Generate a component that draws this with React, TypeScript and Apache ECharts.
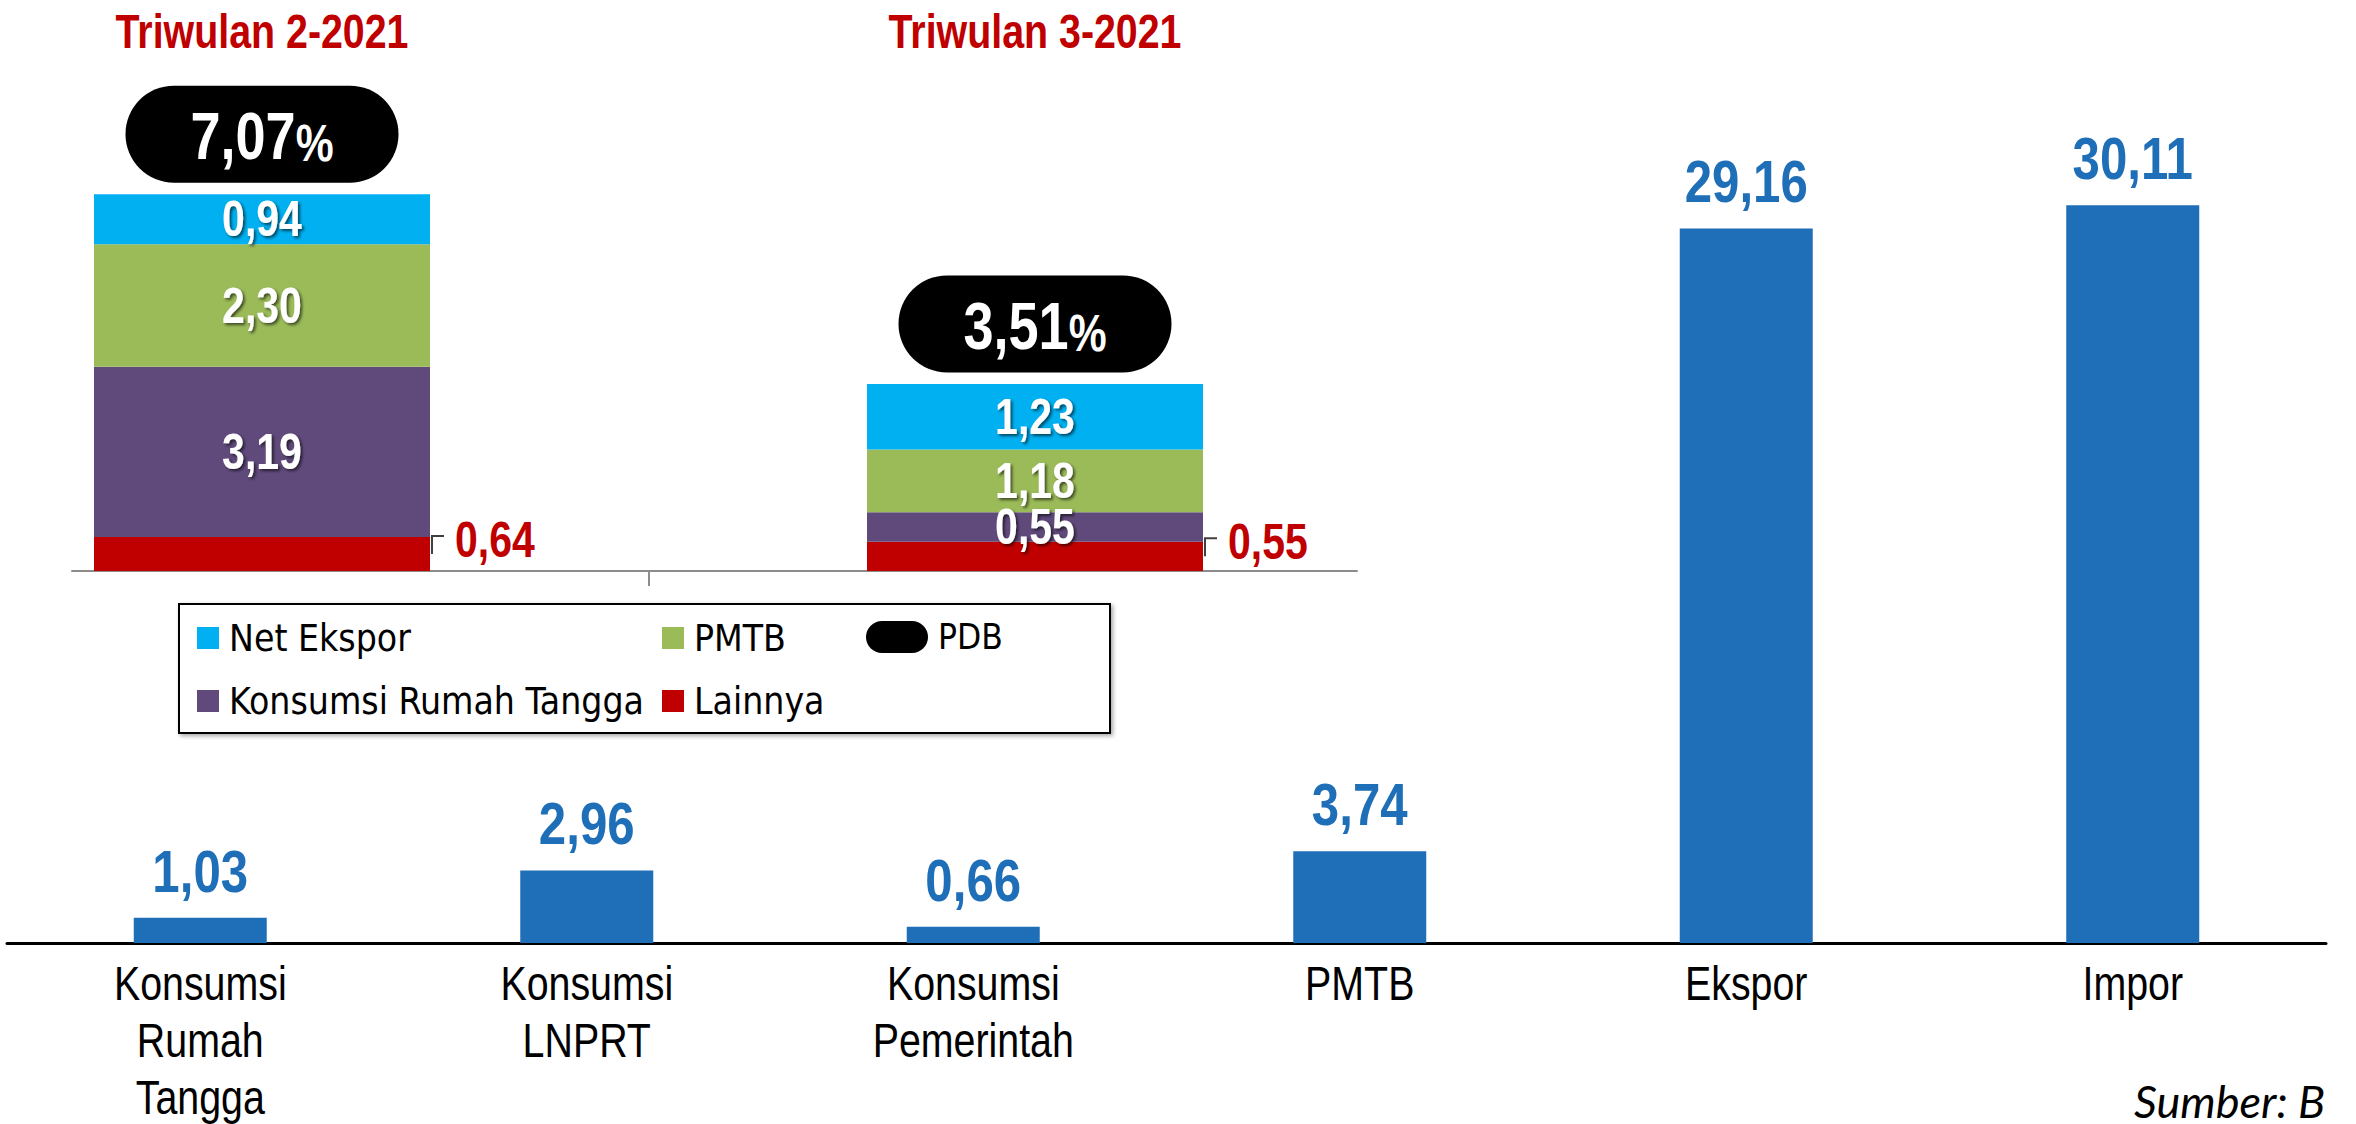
import React, { useEffect, useRef } from 'react';
import * as echarts from 'echarts';

// ---- Main chart data ----
const mainCategories = ['Konsumsi\nRumah\nTangga', 'Konsumsi\nLNPRT', 'Konsumsi\nPemerintah', 'PMTB', 'Ekspor', 'Impor'];
const mainValues = [1.03, 2.96, 0.66, 3.74, 29.16, 30.11];

// ---- Inset chart data ----
const quarterTitles = ['Triwulan 2-2021', 'Triwulan 3-2021'];
const lainnya = [0.64, 0.55];
const konsumsiRT = [3.19, 0.55];
const pmtb = [2.3, 1.18];
const netEkspor = [0.94, 1.23];
const pdb = [7.07, 3.51];
const insideSegments = [konsumsiRT, pmtb, netEkspor];

const ARIAL = "'Liberation Sans', Arial, sans-serif";
const LEGEND_FONT = "'DejaVu Sans Condensed', 'DejaVu Sans', sans-serif";
const NARROW_SCALE = 0.82;
const BLUE = '#1F6FB8';
const RED = '#C00000';
const INSET_BAR_W = 336;
const PILL = 'path://M48.5,0 H224.5 A48.5,48.5 0 0 1 224.5,97 H48.5 A48.5,48.5 0 0 1 48.5,0 Z';
const PILL_SMALL = 'path://M16,0 H46 A16,16 0 0 1 46,32 H16 A16,16 0 0 1 16,0 Z';
const PILL_OFFSET = -60;

const fmt = (v: number) => v.toFixed(2).replace('.', ',');

const narrowText = (x: number, y: number, text: string, st: any) => ({
  type: 'text',
  x,
  y,
  scaleX: NARROW_SCALE,
  style: {
    text,
    fontFamily: ARIAL,
    align: 'center',
    textAlign: 'center',
    verticalAlign: 'middle',
    textVerticalAlign: 'middle',
    ...st,
  },
});

const legendItem = (name: string, left: number, centerY: number, icon: string, w: number, h: number, fs: number) => {
  const boxH = Math.max(h, fs);
  return {
    data: [name],
    left,
    top: centerY - boxH / 2,
    padding: 0,
    itemWidth: w,
    itemHeight: h,
    icon,
    selectedMode: false,
    textStyle: { fontSize: fs, lineHeight: fs, fontFamily: LEGEND_FONT, color: '#000', padding: [0, 0, 0, 5] },
  };
};

export default function App() {
  const ref = useRef<HTMLDivElement>(null);
  useEffect(() => {
    document.body.style.margin = '0';
    document.body.style.overflow = 'hidden';
    const chart = echarts.init(ref.current!, undefined, { renderer: 'svg' });

    const mainLabels = (params: any, api: any) => {
      const i = api.value(0);
      const v = api.value(1);
      const [x, y] = api.coord([i, v]);
      const [, y0] = api.coord([i, 0]);
      return {
        type: 'group',
        children: [
          narrowText(x, y - 47, fmt(v), { fill: BLUE, fontSize: 60, fontWeight: 'bold' }),
          narrowText(x, y0 + 12, mainCategories[i], {
            fill: '#000',
            fontSize: 48,
            lineHeight: 57,
            verticalAlign: 'top',
            textVerticalAlign: 'top',
          }),
        ],
      };
    };

    const insetLabels = (params: any, api: any) => {
      const i = api.value(0);
      const [x, yBase] = api.coord([i, 0]);
      const children: any[] = [];
      // title
      children.push(narrowText(x, 31, quarterTitles[i], { fill: RED, fontSize: 48, fontWeight: 'bold' }));
      // Lainnya (outside, right)
      const redTop = api.coord([i, lainnya[i]])[1];
      const redMid = (yBase + redTop) / 2;
      const right = x + INSET_BAR_W / 2;
      children.push({
        type: 'polyline',
        shape: { points: [[right + 2, redMid], [right + 2, redMid - 18], [right + 14, redMid - 18]] },
        style: { stroke: '#404040', lineWidth: 2, fill: 'none' },
      });
      children.push({
        type: 'text',
        x: right + 25,
        y: redMid - 14,
        scaleX: NARROW_SCALE,
        style: {
          text: fmt(lainnya[i]),
          fill: RED,
          fontSize: 50,
          fontWeight: 'bold',
          fontFamily: ARIAL,
          align: 'left',
          textAlign: 'left',
          verticalAlign: 'middle',
          textVerticalAlign: 'middle',
        },
      });
      // inside segments
      let cum = lainnya[i];
      insideSegments.forEach((arr) => {
        const v = arr[i];
        const yc = api.coord([i, cum + v / 2])[1];
        children.push(
          narrowText(x, yc, fmt(v), {
            fill: '#fff',
            fontSize: 50,
            fontWeight: 'bold',
            textShadowColor: 'rgba(0,0,0,0.6)',
            textShadowBlur: 3,
            textShadowOffsetX: 2,
            textShadowOffsetY: 2,
          })
        );
        cum += v;
      });
      // PDB pill text
      const yTot = api.coord([i, pdb[i]])[1];
      children.push(
        narrowText(x, yTot + PILL_OFFSET + 2, `{a|${fmt(pdb[i])}}{b|%}`, {
          fill: '#fff',
          rich: {
            a: { fill: '#fff', fontSize: 66, fontWeight: 'bold', fontFamily: ARIAL, lineHeight: 66, verticalAlign: 'bottom' },
            b: { fill: '#fff', fontSize: 52, fontWeight: 'bold', fontFamily: ARIAL, lineHeight: 66, verticalAlign: 'bottom' },
          },
        })
      );
      return { type: 'group', children };
    };

    const insetBar = (name: string, data: number[], color: string) => ({
      type: 'bar',
      name,
      xAxisIndex: 2,
      yAxisIndex: 2,
      stack: 'q',
      barWidth: INSET_BAR_W,
      data,
      itemStyle: { color },
    });

    const option: any = {
      animation: false,
      backgroundColor: '#fff',
      grid: [
        { left: 7, top: 61, width: 2319, height: 882 },
        { left: 72, top: 38, width: 1285, height: 533 },
        { left: 262, top: 38, width: 773, height: 533 },
      ],
      xAxis: [
        {
          type: 'category',
          gridIndex: 0,
          data: mainCategories,
          axisLine: { lineStyle: { color: '#000', width: 3 } },
          axisTick: { show: false },
          axisLabel: { show: false },
        },
        {
          type: 'value',
          gridIndex: 1,
          min: -0.2458,
          max: 1.4165,
          splitLine: { show: false },
          axisLabel: { show: false },
          axisLine: { show: true, lineStyle: { color: '#8c8c8c', width: 2 } },
          axisTick: { show: true, customValues: [0.5], length: 15, lineStyle: { color: '#8c8c8c', width: 2 } },
        },
        {
          type: 'category',
          gridIndex: 2,
          data: quarterTitles,
          boundaryGap: false,
          axisLine: { show: false },
          axisTick: { show: false },
          axisLabel: { show: false },
        },
      ],
      yAxis: [
        { type: 'value', gridIndex: 0, min: 0, max: 36, show: false },
        { type: 'value', gridIndex: 1, min: 0, max: 10, show: false },
        { type: 'value', gridIndex: 2, min: 0, max: 10, show: false },
      ],
      legend: [
        legendItem('Net Ekspor', 197, 638, 'rect', 22, 22, 37),
        legendItem('PMTB', 662, 638, 'rect', 22, 22, 37),
        legendItem('PDB', 866, 637, PILL_SMALL, 62, 32, 35),
        legendItem('Konsumsi Rumah Tangga', 197, 701, 'rect', 22, 22, 37),
        legendItem('Lainnya', 662, 701, 'rect', 22, 22, 37),
      ],
      series: [
        {
          type: 'bar',
          name: 'Kontribusi',
          xAxisIndex: 0,
          yAxisIndex: 0,
          data: mainValues,
          barWidth: 133,
          itemStyle: { color: BLUE },
        },
        {
          type: 'custom',
          name: 'mainLabels',
          xAxisIndex: 0,
          yAxisIndex: 0,
          clip: false,
          z: 10,
          data: mainValues.map((v, i) => [i, v]),
          encode: { x: 0, y: 1 },
          renderItem: mainLabels,
        },
        insetBar('Lainnya', lainnya, RED),
        insetBar('Konsumsi Rumah Tangga', konsumsiRT, '#604A7B'),
        insetBar('PMTB', pmtb, '#9BBB59'),
        insetBar('Net Ekspor', netEkspor, '#00B0F0'),
        {
          type: 'scatter',
          name: 'PDB',
          xAxisIndex: 2,
          yAxisIndex: 2,
          data: pdb,
          symbol: PILL,
          symbolSize: [273, 97],
          symbolOffset: [0, PILL_OFFSET],
          itemStyle: { color: '#000', opacity: 1 },
          z: 5,
        },
        {
          type: 'custom',
          name: 'insetLabels',
          xAxisIndex: 2,
          yAxisIndex: 2,
          clip: false,
          z: 10,
          data: quarterTitles.map((t, i) => [i, pdb[i]]),
          encode: { x: 0, y: 1 },
          renderItem: insetLabels,
        },
      ],
      graphic: [
        {
          type: 'rect',
          z: 1,
          shape: { x: 179, y: 604, width: 931, height: 129 },
          style: {
            fill: '#fff',
            stroke: '#000',
            lineWidth: 2,
            shadowBlur: 4,
            shadowColor: 'rgba(0,0,0,0.35)',
            shadowOffsetX: 2,
            shadowOffsetY: 2,
          },
        },
        {
          type: 'text',
          x: 2134,
          y: 1101,
          style: {
            text: 'Sumber: B',
            fill: '#000',
            fontSize: 45,
            fontStyle: 'italic',
            fontFamily: 'Lato, sans-serif',
            textAlign: 'left',
            textVerticalAlign: 'middle',
          },
        },
      ],
    };
    chart.setOption(option);
    return () => chart.dispose();
  }, []);
  return <div ref={ref} style={{ width: 2356, height: 1124 }} />;
}
